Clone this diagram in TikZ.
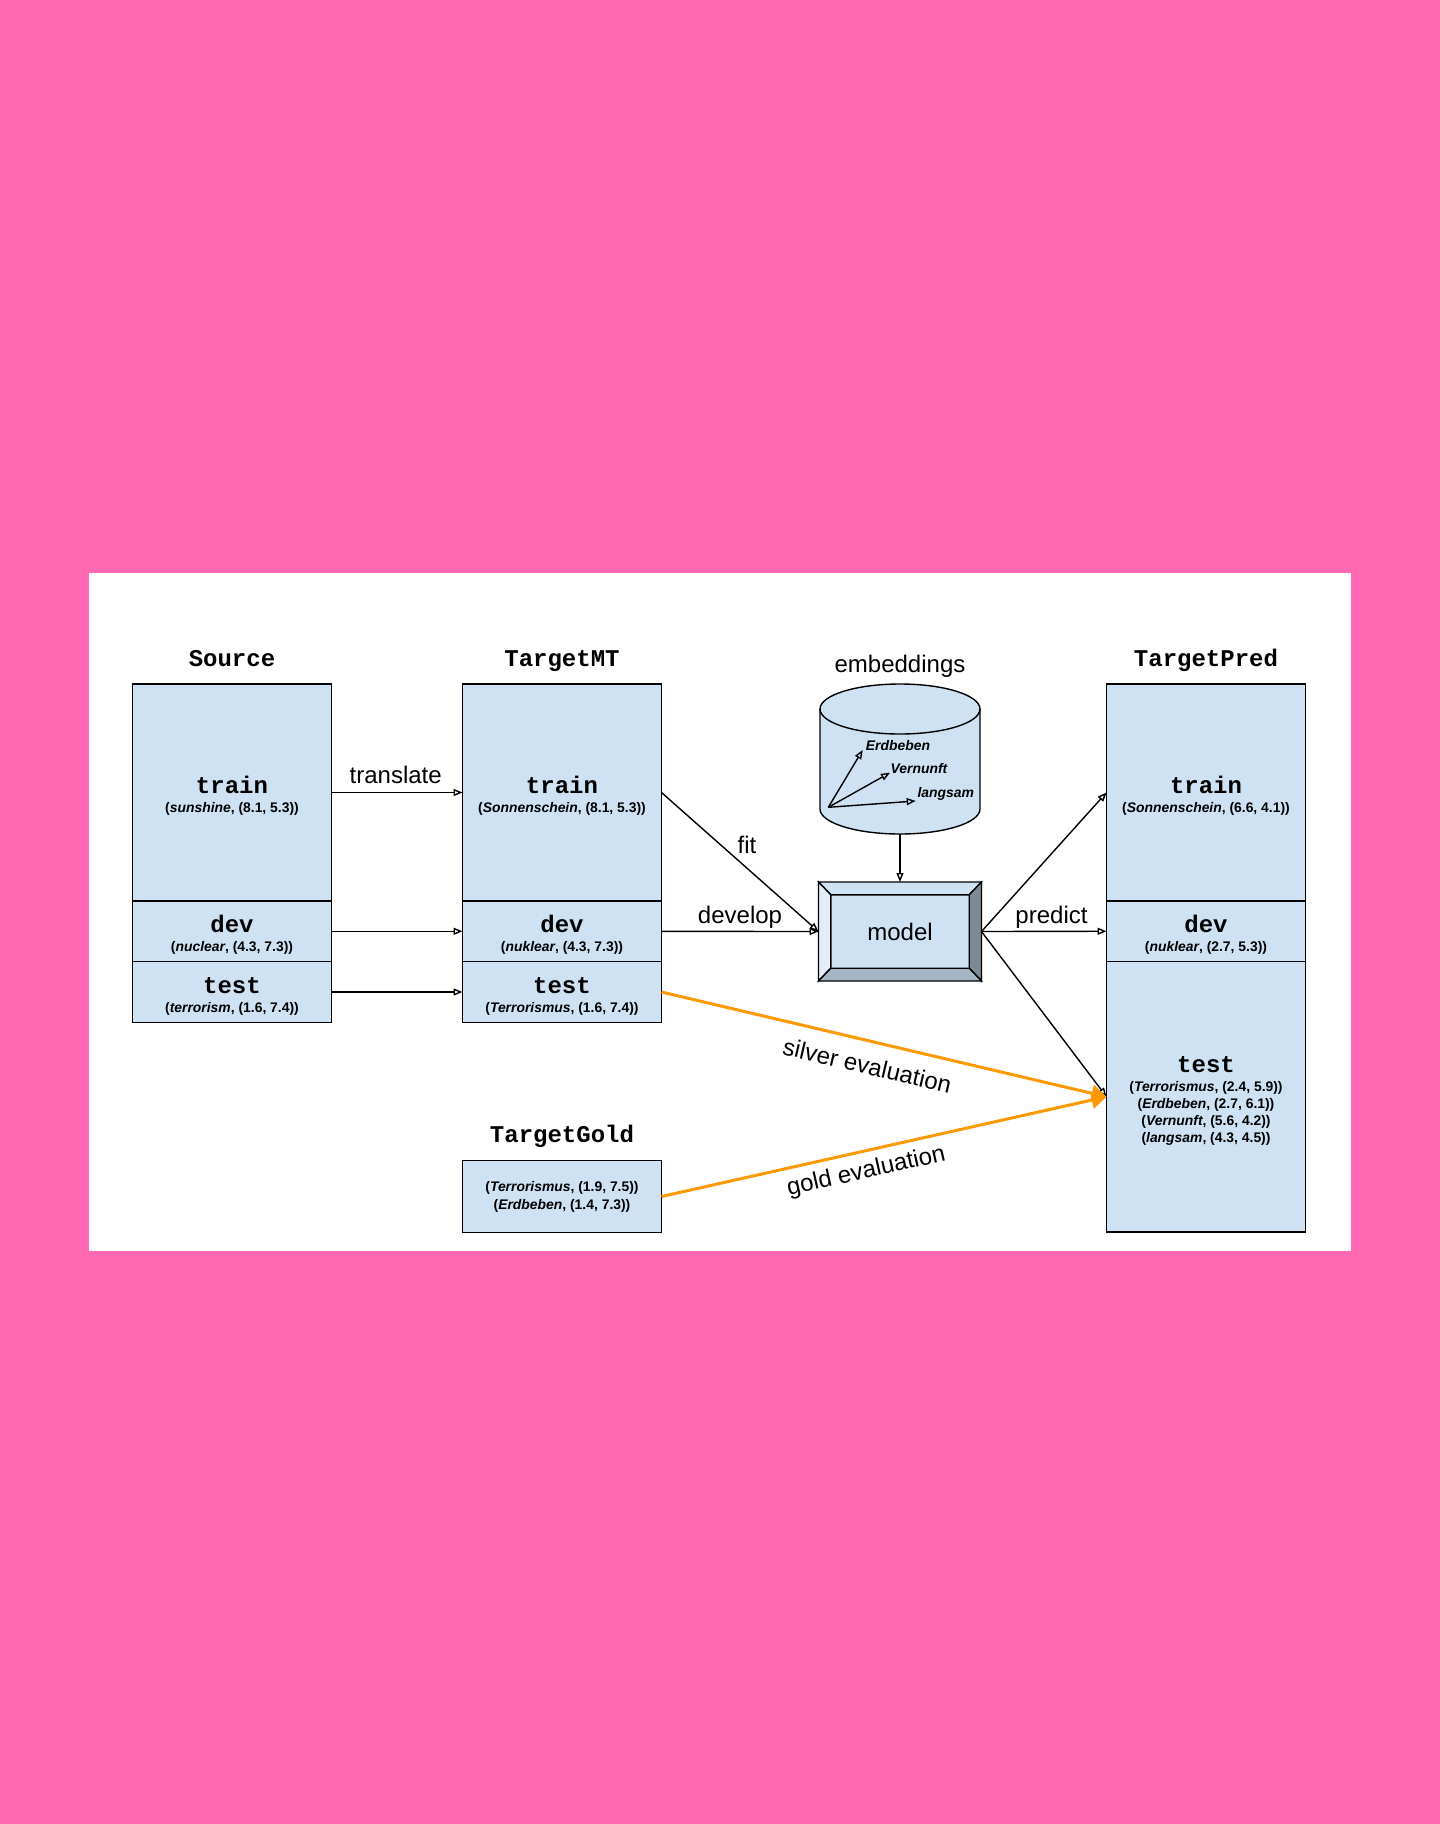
\documentclass[tikz,border=0pt]{standalone}
\usepackage{xcolor}
\usepackage{fontspec}
\setmainfont{Liberation Sans}
\setmonofont{Liberation Mono}
\usetikzlibrary{
  arrows.meta,
  shapes.geometric,
  positioning,
  calc
}
\definecolor{pgPink}{HTML}{FF69B4}
\definecolor{pgBlue}{HTML}{CFE2F3}
\definecolor{pgOrange}{HTML}{FF9900}
\definecolor{pgBevelL}{HTML}{E2EDF8}
\definecolor{pgBevelR}{HTML}{7C8A96}
\definecolor{pgBevelB}{HTML}{A5B5C3}
\newcommand{\setname}{\fontsize{24}{24}\selectfont\ttfamily\bfseries}
\newcommand{\setitem}{\fontsize{13.9}{17}\selectfont\bfseries}
\newcommand{\settitle}[1]{{\setname\rule{0pt}{24pt}#1}\\[2pt]}
\newcommand{\vecitem}[2]{(\textit{#1}, (#2))}
\tikzset{
  setbox/.style={
    draw, fill=pgBlue, line width=1.4pt, minimum width=199pt, inner sep=0pt, outer sep=0pt,
    font=\setitem, align=center
  },
  trainbox/.style={setbox, minimum height=217pt},
  devbox/.style={setbox, minimum height=60.5pt},
  testbox/.style={setbox, minimum height=61pt},
  predbox/.style={setbox, minimum height=270.5pt},
  goldbox/.style={setbox, minimum height=72pt},
  setlabel/.style={font=\setname, inner sep=0pt, text depth=0pt},
  toplabel/.style={font=\fontsize{24}{24}\selectfont, inner sep=0pt, text depth=0pt},
  vecword/.style={font=\fontsize{13.9}{16}\selectfont\bfseries\itshape, inner sep=0pt},
  bevel/.style={draw=black, line width=1.4pt},
  flow/.style={-{Triangle[open, length=9pt, width=7pt]}, line width=1.4pt},
  evalflow/.style={-{Triangle[length=15pt, width=17pt]}, line width=3pt, pgOrange},
  edgetag/.style={font=\fontsize{24}{24}\selectfont, inner sep=0pt, text depth=0pt}
}
\begin{document}
\begin{tikzpicture}[x=1pt, y=-1pt, node distance=0pt]
  \useasboundingbox[fill=pgPink] (0,0) rectangle (1440,1824);
  \fill[white] (89,573) rectangle (1351,1251);
  % source column
  \node[trainbox] (srctrain) at (232,792.5) {\settitle{train}\vecitem{sunshine}{8.1, 5.3}};
  \node[devbox, below=of srctrain] (srcdev) {\settitle{dev}\vecitem{nuclear}{4.3, 7.3}};
  \node[testbox, below=of srcdev] (srctest) {\settitle{test}\vecitem{terrorism}{1.6, 7.4}};
  \node[setlabel, above=17.5pt of srctrain] (srcname) {Source};
  % machine translated column
  \node[trainbox, right=131pt of srctrain] (mttrain) {\settitle{train}\vecitem{Sonnenschein}{8.1, 5.3}};
  \node[devbox, below=of mttrain] (mtdev) {\settitle{dev}\vecitem{nuklear}{4.3, 7.3}};
  \node[testbox, below=of mtdev] (mttest) {\settitle{test}\vecitem{Terrorismus}{1.6, 7.4}};
  \node[setlabel, above=17.5pt of mttrain] (mtname) {TargetMT};
  % gold set
  \node[goldbox, below=138pt of mttest] (gold) {\vecitem{Terrorismus}{1.9, 7.5}\\[1pt]\vecitem{Erdbeben}{1.4, 7.3}};
  \node[setlabel, above=17.5pt of gold] (goldname) {TargetGold};
  % predicted column
  \node[trainbox, right=445pt of mttrain] (predtrain) {\settitle{train}\vecitem{Sonnenschein}{6.6, 4.1}};
  \node[devbox, below=of predtrain] (preddev) {\settitle{dev}\vecitem{nuklear}{2.7, 5.3}};
  \node[predbox, below=of preddev] (predtest) {\settitle{test}\vecitem{Terrorismus}{2.4, 5.9}\\\vecitem{Erdbeben}{2.7, 6.1}\\\vecitem{Vernunft}{5.6, 4.2}\\\vecitem{langsam}{4.3, 4.5}};
  \node[setlabel, above=17.5pt of predtrain] (predname) {TargetPred};
  % model with bevel
  \node[minimum width=163pt, minimum height=99pt, inner sep=0pt, outer sep=0pt] (model) at (900,931.5) {};
  \node[fill=pgBlue, minimum width=138pt, minimum height=73pt, inner sep=0pt, font=\fontsize{24}{24}\selectfont] (modelin) at (model.center) {model};
  \filldraw[bevel, fill=pgBlue] (model.north west) -- (modelin.north west) -- (modelin.north east) -- (model.north east) -- cycle;
  \filldraw[bevel, fill=pgBevelL] (model.north west) -- (modelin.north west) -- (modelin.south west) -- (model.south west) -- cycle;
  \filldraw[bevel, fill=pgBevelR] (model.north east) -- (modelin.north east) -- (modelin.south east) -- (model.south east) -- cycle;
  \filldraw[bevel, fill=pgBevelB] (model.south west) -- (modelin.south west) -- (modelin.south east) -- (model.south east) -- cycle;
  % embeddings store
  \node[minimum width=160pt, minimum height=150pt, inner sep=0pt, outer sep=0pt] (store) at (900,759) {};
  \filldraw[fill=pgBlue, line width=1.4pt] ($(store.north west)+(0,25)$) arc[start angle=180, end angle=0, x radius=80pt, y radius=25pt]
    -- ($(store.south east)+(0,-25)$) arc[start angle=0, end angle=-180, x radius=80pt, y radius=25pt] -- cycle;
  \draw[line width=1.4pt] ($(store.north west)+(0,25)$) arc[start angle=180, end angle=360, x radius=80pt, y radius=25pt];
  \node[toplabel, above=11pt of store] (storename) {embeddings};
  \coordinate (veco) at (828.3,807.3);
  \node[vecword] (erdb) at (898,746) {Erdbeben};
  \node[vecword] (vern) at (919,769) {Vernunft};
  \node[vecword] (lang) at (945.7,794) {langsam};
  \coordinate (erdbtip) at (862.7,750);
  \coordinate (verntip) at (890,772.7);
  \coordinate (langtip) at (915.7,801);
  \draw[flow] (veco) -- (erdbtip);
  \draw[flow] (veco) -- (verntip);
  \draw[flow] (veco) -- (langtip);
  % connectors
  \draw[flow] (srctrain) -- node[edgetag, above=8pt, pos=.49] (translate) {translate} (mttrain);
  \draw[flow] (srcdev) -- (mtdev);
  \draw[flow] (srctest) -- (mttest);
  \draw[flow] (mttrain.east) -- node[edgetag, above right=8pt and -3pt] (fit) {fit} (model.west);
  \draw[flow] (mtdev) -- node[edgetag, above=7pt] (develop) {develop} (model.west);
  \draw[flow] (store.south) -- (model.north);
  \draw[flow] (model.east) -- (predtrain.west);
  \draw[flow] (model.east) -- node[edgetag, above=7pt, pos=.56] (predict) {predict} (preddev.west);
  \draw[flow] (model.east) -- (predtest.west);
  \draw[evalflow] (mttest.east) -- node[edgetag, sloped, below=14pt, pos=.475, text=black] (silver) {silver evaluation} (predtest.west);
  \draw[evalflow] (gold.east) -- node[edgetag, sloped, below=8pt, pos=.45, text=black] (goldeval) {gold evaluation} (predtest.west);
\end{tikzpicture}
\end{document}
